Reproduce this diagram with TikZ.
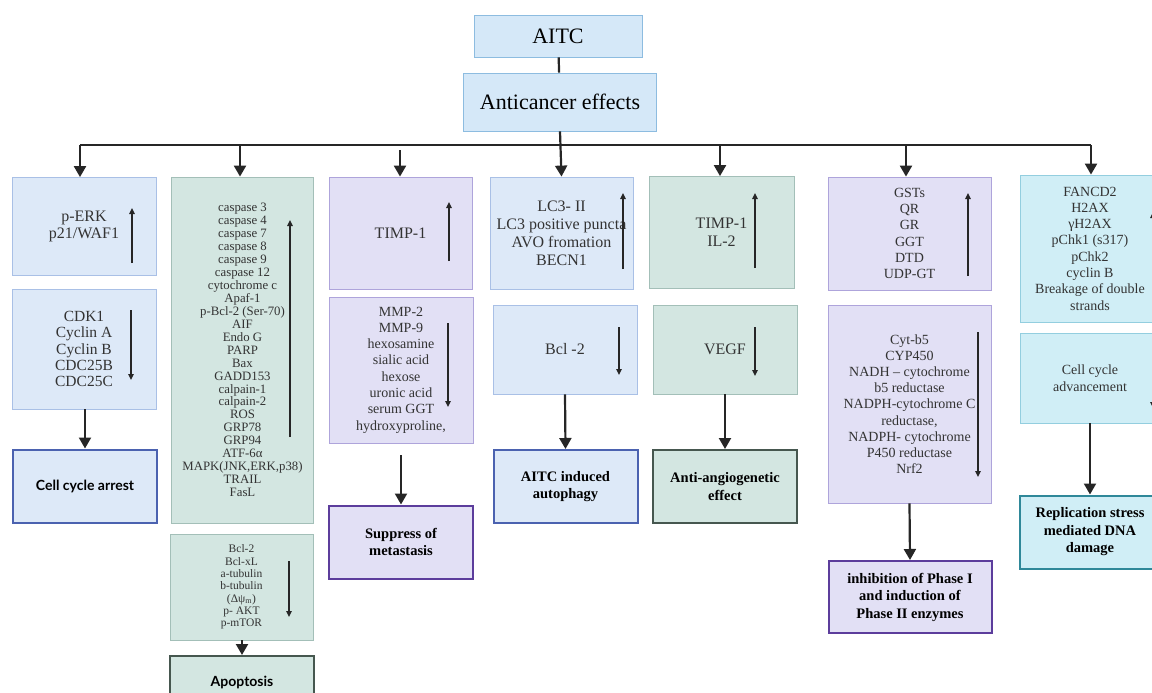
\documentclass[tikz,border=0pt]{standalone}
\usepackage{fontspec}
\setmainfont{Liberation Serif}
\newfontfamily\latofont{Lato}
\usetikzlibrary{positioning,arrows.meta}

\definecolor{txtgray}{HTML}{333333}
\definecolor{linkgray}{HTML}{262626}
\definecolor{topfill}{HTML}{D5E8F8}
\definecolor{topline}{HTML}{8DBCE0}
\definecolor{bluefill}{HTML}{DDE9F8}
\definecolor{blueline}{HTML}{A9C0E6}
\definecolor{greenfill}{HTML}{D3E6E1}
\definecolor{greenline}{HTML}{A3BFB8}
\definecolor{purfill}{HTML}{E2E0F5}
\definecolor{purline}{HTML}{AEA4DB}
\definecolor{cyanfill}{HTML}{D0EEF6}
\definecolor{cyanline}{HTML}{93CEDF}
\definecolor{bluedark}{HTML}{4B62B0}
\definecolor{greendark}{HTML}{46574F}
\definecolor{purdark}{HTML}{5C3D9C}
\definecolor{cyandark}{HTML}{2F8899}

\newcommand{\setfs}[2]{\fontsize{#1}{#2}\selectfont}

\begin{document}
\begin{tikzpicture}[x=1pt,y=-1pt,
    box/.style={draw,line width=0.8pt,align=center,inner sep=2pt,text=txtgray},
    topbox/.style={box,fill=topfill,draw=topline,text=black,font=\setfs{22}{24}},
    bluebox/.style={box,fill=bluefill,draw=blueline},
    greenbox/.style={box,fill=greenfill,draw=greenline},
    purbox/.style={box,fill=purfill,draw=purline},
    cyanbox/.style={box,fill=cyanfill,draw=cyanline},
    result/.style={line width=2pt,text=black,minimum width=144pt,minimum height=73pt,font=\bfseries\setfs{14.5}{17.5}},
    trunk/.style={line width=2.2pt,draw=linkgray},
    link/.style={trunk,-{Triangle[length=11pt,width=12pt]}},
    rise/.style={line width=1.3pt,draw=linkgray,-{Triangle[length=6pt,width=5.5pt]}},
    fall/.style={rise}]
    \useasboundingbox (0,0) rectangle (1152,693);
    \clip (0,0) rectangle (1152,693);

    \node[topbox,minimum width=168pt,minimum height=42pt] (aitc) at (558,36) {AITC};
    \node[topbox,minimum width=193pt,minimum height=58pt] (anti) at (560,102) {Anticancer effects};

    \node[bluebox,minimum width=144pt,minimum height=98pt,font=\setfs{16}{17.5}] (erk) at (84,226.5) {p-ERK\\p21/WAF1};
    \node[bluebox,minimum width=144pt,minimum height=120pt,font=\setfs{15.5}{16.3}] (cdk) at (84,349) {CDK1\\Cyclin A\\Cyclin B\\CDC25B\\CDC25C};
    \node[bluebox,result,draw=bluedark,font=\latofont\bfseries\setfs{14}{17}] (arrest) at (85,486) {Cell cycle arrest};

    \node[greenbox,minimum width=142pt,minimum height=346pt,font=\setfs{12.8}{12.95}] (apo) at (242.5,350) {caspase 3\\caspase 4\\caspase 7\\caspase 8\\caspase 9\\caspase 12\\cytochrome c\\Apaf-1\\p-Bcl-2 (Ser-70)\\AIF\\Endo G\\PARP\\Bax\\GADD153\\calpain-1\\calpain-2\\ROS\\GRP78\\GRP94\\ATF-6α\\MAPK(JNK,ERK,p38)\\TRAIL\\FasL};
    \node[greenbox,minimum width=143pt,minimum height=106pt,font=\setfs{11.5}{12.3}] (apolow) at (241.5,587) {Bcl-2\\Bcl-xL\\a-tubulin\\b-tubulin\\(Δψ\textsubscript{m})\\p- AKT\\p-mTOR};
    \node[greenbox,result,draw=greendark,minimum height=52pt,font=\latofont\bfseries\setfs{14}{17}] (apoptosis) at (242,682) {Apoptosis};

    \node[purbox,minimum width=143pt,minimum height=112pt,font=\setfs{16}{17.5}] (timp) at (400.5,233) {TIMP-1};
    \node[purbox,minimum width=144pt,minimum height=146pt,font=\setfs{14}{16.3}] (mmp) at (401,370) {MMP-2\\MMP-9\\hexosamine\\sialic acid\\hexose\\uronic acid\\serum GGT\\hydroxyproline,};
    \node[purbox,result,draw=purdark] (metas) at (401,542) {Suppress of\\metastasis};

    \node[bluebox,minimum width=143pt,minimum height=112pt,font=\setfs{16}{18}] (lc3) at (561.5,233) {LC3- II\\LC3 positive puncta\\AVO fromation\\BECN1};
    \node[bluebox,minimum width=144pt,minimum height=89pt,font=\setfs{16}{18}] (bcl) at (565,349.5) {Bcl -2};
    \node[bluebox,result,draw=bluedark] (autoph) at (565.5,486.5) {AITC induced\\autophagy};

    \node[greenbox,minimum width=145pt,minimum height=112pt,font=\setfs{16}{18}] (il2) at (721.5,232.5) {TIMP-1\\IL-2};
    \node[greenbox,minimum width=144pt,minimum height=89pt,font=\setfs{16}{18}] (vegf) at (725,349.5) {VEGF};
    \node[greenbox,result,draw=greendark] (angio) at (725,486.5) {Anti-angiogenetic\\effect};

    \node[purbox,minimum width=163pt,minimum height=113pt,font=\setfs{14}{16.2}] (gst) at (909.5,233.5) {GSTs\\QR\\GR\\GGT\\DTD\\UDP-GT};
    \node[purbox,minimum width=163pt,minimum height=198pt,font=\setfs{14}{16.2}] (cyt) at (909.5,404) {Cyt-b5\\CYP450\\NADH -- cytochrome\\b5 reductase\\NADPH-cytochrome C\\reductase,\\NADPH- cytochrome\\P450 reductase\\Nrf2};
    \node[purbox,result,draw=purdark,minimum width=163pt,minimum height=72pt] (phase) at (910,597) {inhibition of Phase I\\and induction of\\Phase II enzymes};

    \node[cyanbox,minimum width=140pt,minimum height=147pt,font=\setfs{14}{16.3}] (fanc) at (1090,248.5) {FANCD2\\H2AX\\γH2AX\\pChk1 (s317)\\pChk2\\cyclin B\\Breakage of double\\strands};
    \node[cyanbox,minimum width=140pt,minimum height=90pt,font=\setfs{14}{17}] (adv) at (1090,378) {Cell cycle\\advancement};
    \node[cyanbox,result,draw=cyandark,minimum width=140pt] (repl) at (1090,532) {Replication stress\\mediated DNA\\damage};

    \coordinate (f1) at (80,145);
    \coordinate (f2) at (240,145);
    \coordinate (f3) at (400,150);
    \coordinate (f4) at (560,145);
    \coordinate (f5) at (720,145);
    \coordinate (f6) at (906,145);
    \coordinate (f7) at (1091,145);

    \draw[trunk] (aitc) -- (anti);
    \draw[trunk] (f1) -- (f7);
    \draw[link] (anti.south) -- (lc3.north);
    \draw[link] (f1) -- (f1 |- erk.north);
    \draw[link] (f2) -- (f2 |- apo.north);
    \draw[link] (f3) -- (f3 |- timp.north);
    \draw[link] (f5) -- (f5 |- il2.north);
    \draw[link] (f6) -- (f6 |- gst.north);
    \draw[link] (f7) -- (f7 |- fanc.north);

    \draw[link] (cdk.south -| arrest.north) -- (arrest.north);
    \draw[link] (apolow.south -| apoptosis.north) -- (apoptosis.north);
    \draw[link] ([yshift=-12pt]mmp.south) -- (metas.north);
    \draw[link] (bcl.south) -- (autoph.north);
    \draw[link] (vegf.south) -- (angio.north);
    \draw[link] (cyt.south) -- (phase.north);
    \draw[link] (adv.south) -- (repl.north);

    \draw[rise] (132,263) -- (132,208);
    \draw[fall] (131,310) -- (131,380);
    \draw[rise] (290,437) -- (290,220);
    \draw[fall] (289,561) -- (289,617);
    \draw[rise] (449,261) -- (449,202);
    \draw[fall] (448,323) -- (448,407);
    \draw[rise] (623,269) -- (623,193);
    \draw[fall] (619,327) -- (619,375);
    \draw[rise] (755,268) -- (755,193);
    \draw[fall] (755,327) -- (755,376);
    \draw[rise] (968,276) -- (968,193);
    \draw[fall] (978,332) -- (978,477);
    \draw[rise] (1153,300) -- (1153,212);
    \draw[fall] (1153,330) -- (1153,408);
\end{tikzpicture}
\end{document}
